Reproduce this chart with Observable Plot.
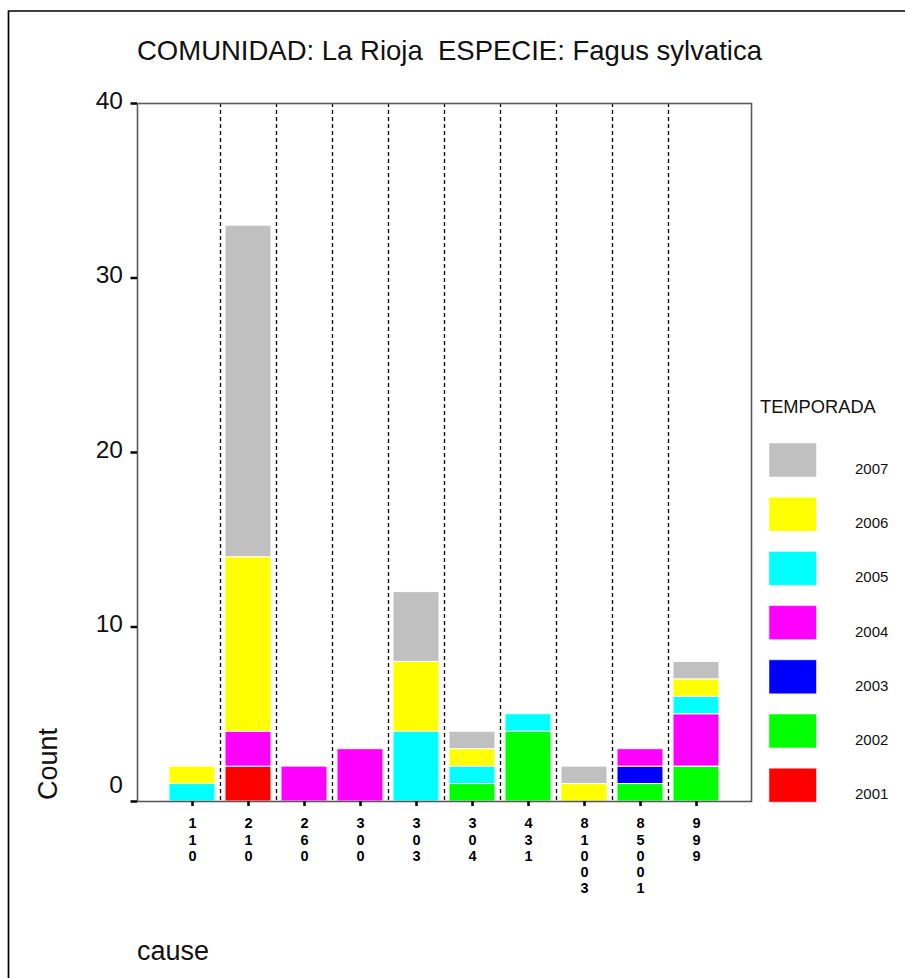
<!DOCTYPE html>
<html>
<head>
<meta charset="utf-8">
<script src="https://cdn.jsdelivr.net/npm/d3@7"></script>
<script src="https://cdn.jsdelivr.net/npm/@observablehq/plot@0.6"></script>
<style>
  html, body { margin: 0; padding: 0; background: #fff; }
  #chart { position: relative; width: 905px; height: 978px; overflow: hidden; }
</style>
</head>
<body>
<div id="chart"></div>
<script>
// ---- data ----
const causes = ["110", "210", "260", "300", "303", "304", "431", "81003", "85001", "999"];
const years  = ["2001", "2002", "2003", "2004", "2005", "2006", "2007"];
const colors = ["#ff0000", "#00ff00", "#0000ff", "#ff00ff", "#00ffff", "#ffff00", "#c0c0c0"];
const c2001 = [0, 2, 0, 0, 0, 0, 0, 0, 0, 0];
const c2002 = [0, 0, 0, 0, 0, 1, 4, 0, 1, 2];
const c2003 = [0, 0, 0, 0, 0, 0, 0, 0, 1, 0];
const c2004 = [0, 2, 2, 3, 0, 0, 0, 0, 1, 3];
const c2005 = [1, 0, 0, 0, 4, 1, 1, 0, 0, 1];
const c2006 = [1, 10, 0, 0, 4, 1, 0, 1, 0, 1];
const c2007 = [0, 19, 0, 0, 4, 1, 0, 1, 0, 1];
const yTicks = [0, 10, 20, 30, 40];
const title = "COMUNIDAD: La Rioja  ESPECIE: Fagus sylvatica";
const xLabel = "cause";
const yLabel = "Count";
const legendTitle = "TEMPORADA";

const series = [c2001, c2002, c2003, c2004, c2005, c2006, c2007];
const data = [];
years.forEach((yr, j) => {
  causes.forEach((c, i) => {
    if (series[j][i] > 0) data.push({cause: c, year: yr, count: series[j][i]});
  });
});

// ---- layout ----
const W = 905, H = 978;
const mL = 137, mR = 154, mT = 103, mB = 177;
const inset = 27;
const halfStep = (W - mL - mR - 2 * inset) / causes.length / 2;
const font = "'Liberation Sans', Arial, Helvetica, sans-serif";

const chart = Plot.plot({
  width: W, height: H,
  marginLeft: mL, marginRight: mR, marginTop: mT, marginBottom: mB,
  style: {fontFamily: font, background: "#fff", color: "#000", overflow: "visible"},
  x: {domain: causes, paddingInner: 0.18, paddingOuter: 0.09, insetLeft: inset, insetRight: inset, label: null},
  y: {domain: [0, 40], label: null},
  color: {domain: years, range: colors},
  marks: [
    Plot.ruleX(causes.slice(0, -1), {x: d => d, dx: halfStep, stroke: "#000", strokeWidth: 1.3, strokeDasharray: "4,3"}),
    Plot.barY(data, {x: "cause", y: "count", fill: "year", order: years, stroke: "#fff", strokeWidth: 1}),
    Plot.frame({stroke: "#5a5a5a", strokeWidth: 1.6}),
    Plot.axisX({tickSize: 5, tickPadding: 10.5, fontSize: 14.5, fontWeight: "bold", lineHeight: 1.11,
                tickFormat: d => d.split("").join("\n"), label: null, color: "#000", strokeWidth: 2.5}),
    Plot.axisY({ticks: yTicks, tickSize: 6.5, tickFormat: () => "", label: null, color: "#000", strokeWidth: 2.5}),
    Plot.axisY({ticks: yTicks.filter(v => v > 0), tickSize: 0, tickPadding: 14.5, fontSize: 24.5, dy: -2.5, label: null, color: "#111"}),
    Plot.axisY({ticks: [0], tickSize: 0, tickPadding: 14.5, fontSize: 24.5, dy: -16, label: null, color: "#111"})
  ]
});

document.getElementById("chart").appendChild(chart);
const svg = d3.select(chart);

// outer border (left & top visible)
svg.append("path")
  .attr("d", `M8.5,${H} V11 H${W}`)
  .attr("fill", "none").attr("stroke", "#000").attr("stroke-width", 1.7);

// title
svg.append("text")
  .attr("x", 449.5).attr("y", 60)
  .attr("text-anchor", "middle")
  .attr("xml:space", "preserve").style("white-space", "pre")
  .attr("font-size", 27.5).attr("fill", "#111").attr("font-family", font)
  .text(title);

// axis titles
svg.append("text")
  .attr("transform", "translate(57,800) rotate(-90)")
  .attr("text-anchor", "start")
  .attr("font-size", 27).attr("fill", "#111").attr("font-family", font)
  .text(yLabel);
svg.append("text")
  .attr("x", 137).attr("y", 960)
  .attr("text-anchor", "start")
  .attr("font-size", 27).attr("fill", "#111").attr("font-family", font)
  .text(xLabel);

// legend
const color = chart.scale("color");
const lg = svg.append("g").attr("font-family", font).attr("text-anchor", "start");
lg.append("text").attr("x", 760).attr("y", 413)
  .attr("font-size", 18.3).attr("fill", "#111").text(legendTitle);
const legendYears = color.domain.slice().reverse();
legendYears.forEach((yr, i) => {
  const y0 = 443 + i * 54.2;
  lg.append("rect").attr("x", 769).attr("y", y0).attr("width", 47.5).attr("height", 34)
    .attr("fill", color.apply(yr)).attr("stroke", "#fff").attr("stroke-opacity", 0.5);
  lg.append("text").attr("x", 855).attr("y", y0 + 31)
    .attr("font-size", 15).attr("fill", "#111").text(yr);
});
</script>
</body>
</html>
